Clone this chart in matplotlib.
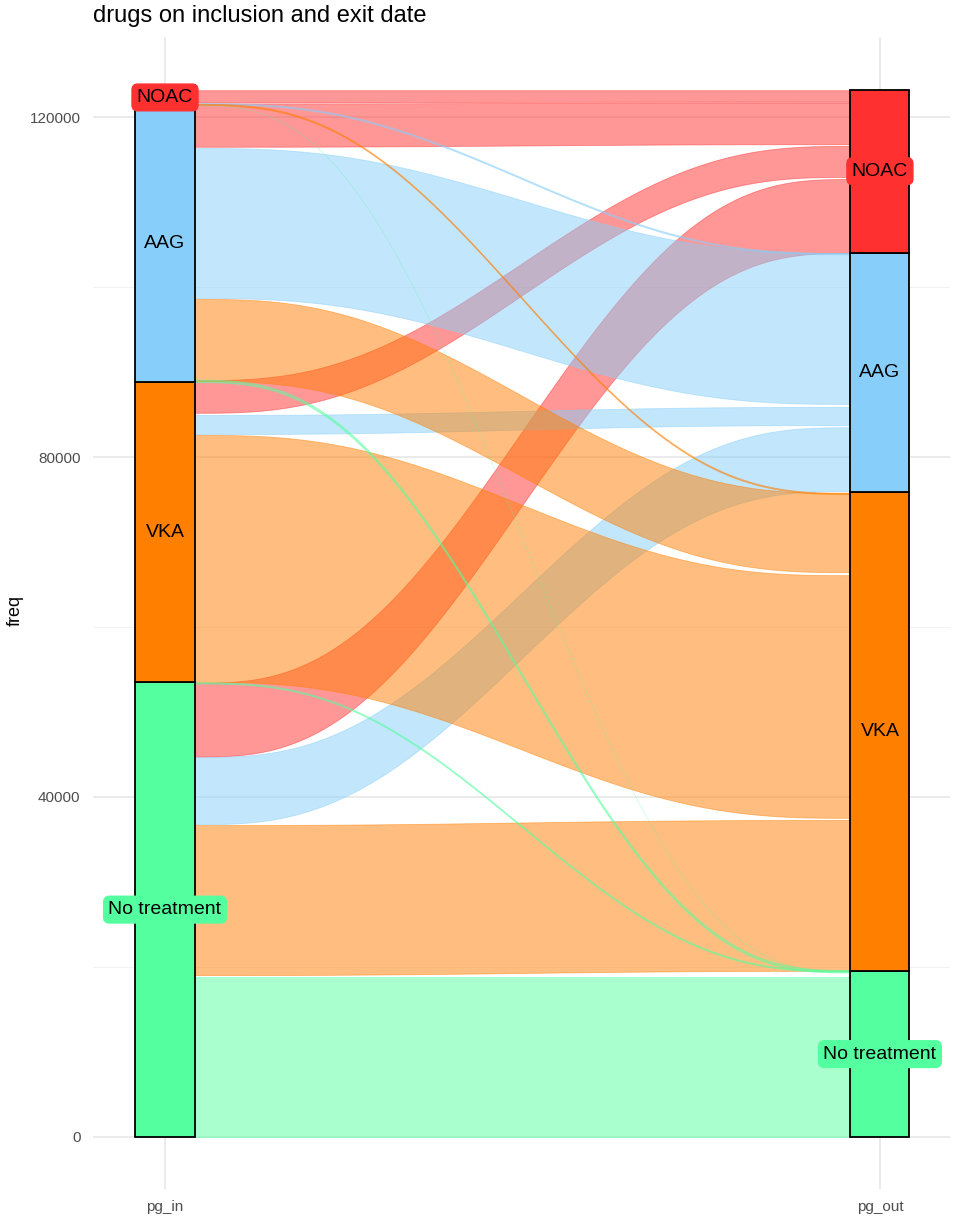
import numpy as np
import matplotlib
matplotlib.use("Agg")
import matplotlib.pyplot as plt

plt.rcParams['font.family'] = ['Liberation Sans', 'DejaVu Sans']

# strata (bottom to top) and their sizes on each axis
categories = ['No treatment', 'VKA', 'AAG', 'NOAC']
counts_in = [53500, 35300, 32600, 1800]
counts_out = [19500, 56350, 28200, 19150]
axis_labels = ['pg_in', 'pg_out']

colors = {'NOAC': '#FF3030', 'AAG': '#87CEFA', 'VKA': '#FF7F00', 'No treatment': '#54FF9F'}

# flows: source, destination, lower/upper freq at pg_in, lower/upper freq at pg_out
flow_from = ['NOAC', 'AAG', 'VKA', 'No treatment',
             'NOAC', 'AAG', 'VKA', 'No treatment',
             'NOAC', 'AAG', 'VKA', 'No treatment',
             'NOAC', 'VKA', 'No treatment', 'No treatment']
flow_to = ['NOAC', 'NOAC', 'NOAC', 'NOAC',
           'AAG', 'AAG', 'AAG', 'AAG',
           'VKA', 'VKA', 'VKA', 'VKA',
           'No treatment', 'No treatment', 'No treatment', 'No treatment']
in_lo = [121750, 116500, 85200, 44750,
         121500, 98700, 82700, 36800,
         121400, 88950, 53550, 19050,
         121350, 88800, 53350, 0]
in_hi = [123150, 121600, 89050, 53450,
         121650, 116350, 84950, 44700,
         121550, 98600, 82600, 36700,
         121380, 89100, 53500, 18800]
out_lo = [121800, 116800, 112950, 104000,
          103850, 86250, 83750, 76000,
          75650, 66450, 37550, 19550,
          19500, 19350, 19450, 0]
out_hi = [123150, 121700, 116600, 112700,
          104000, 104000, 85900, 83500,
          75800, 75750, 66100, 37300,
          19530, 19650, 19600, 18800]

fig = plt.figure(figsize=(9.57, 12.19), dpi=100)
ax = fig.add_axes([93 / 957, 30 / 1219, 857 / 957, 1152 / 1219])

ax.set_xlim(0.8993, 2.098)
ax.set_ylim(-6118, 129412)

# grid like theme_minimal
for v in [20000, 60000, 100000]:
    ax.axhline(v, color='#F0F0F0', lw=0.6, zorder=0)
for v in [0, 40000, 80000, 120000]:
    ax.axhline(v, color='#E6E6E6', lw=1.1, zorder=0)
for v in [1, 2]:
    ax.axvline(v, color='#E6E6E6', lw=1.1, zorder=0)

hw = 0.0413
x0, x1 = 1 + hw, 2 - hw
t = np.linspace(0, 1, 200)
s = 6 * t**5 - 15 * t**4 + 10 * t**3
xs = x0 + (x1 - x0) * t

for i in range(len(flow_from)):
    c = colors[flow_to[i]]
    lo = in_lo[i] + (out_lo[i] - in_lo[i]) * s
    hi = in_hi[i] + (out_hi[i] - in_hi[i]) * s
    tiny = (in_hi[i] - in_lo[i]) < 100
    ax.fill_between(xs, lo, hi, facecolor=c, edgecolor=c, alpha=0.25 if tiny else 0.5,
                    lw=0.3 if tiny else 0.6, zorder=2)

# strata boxes and labels
for xi, cnts in zip([1, 2], [counts_in, counts_out]):
    base = 0
    for cat, n in zip(categories, cnts):
        ax.add_patch(plt.Rectangle((xi - hw, base), 2 * hw, n, facecolor=colors[cat],
                                   edgecolor='black', lw=1.3, zorder=3))
        ax.text(xi, base + n / 2, cat, ha='center', va='center', fontsize=14, zorder=5,
                bbox=dict(boxstyle='round,pad=0.25,rounding_size=0.3', fc=colors[cat], ec=colors[cat]))
        base += n

ax.set_xticks([1, 2])
ax.set_xticklabels(axis_labels)
ax.set_yticks([0, 40000, 80000, 120000])
ax.set_yticklabels(['0', '40000', '80000', '120000'])
ax.tick_params(axis='both', length=0, labelsize=11, labelcolor='#4D4D4D')
ax.tick_params(axis='y', pad=9)
ax.tick_params(axis='x', pad=8)
for sp in ax.spines.values():
    sp.set_visible(False)

fig.text(15 / 957, 1 - 610 / 1219, 'freq', rotation=90, ha='center', va='center', fontsize=13)
fig.text(93 / 957, 1 - 22 / 1219, 'drugs on inclusion and exit date', ha='left', va='baseline', fontsize=17)

fig.savefig('out.png', dpi=100)
